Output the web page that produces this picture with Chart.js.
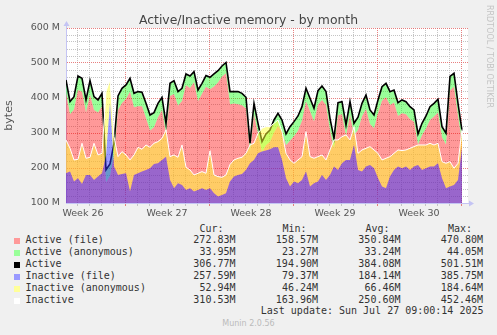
<!DOCTYPE html>
<html>
<head>
<meta charset="utf-8">
<script src="https://cdn.jsdelivr.net/npm/chart.js@4.4.1/dist/chart.umd.min.js"></script>
<style>
html, body { margin: 0; padding: 0; background: #f0f0f0; }
#graph { position: relative; width: 497px; height: 335px; overflow: hidden; font-family: 'DejaVu Sans', sans-serif; }
#plot { position: absolute; left: 0; top: 0; }
.title { position: absolute; left: 0; width: 497px; top: 13px; line-height: 14px; text-align: center; font-size: 12.4px; color: #444; }
.rrd { position: absolute; left: 484px; top: 5px; writing-mode: vertical-rl; font-size: 8px; line-height: 10px; color: #c4c4c4; white-space: nowrap; }
.munin { position: absolute; left: 0; width: 497px; top: 319px; line-height: 10px; text-align: center; font-size: 8px; color: #bbb; }
.cell { position: absolute; font-family: 'DejaVu Sans Mono', monospace; font-size: 10px; line-height: 12px; color: #333; white-space: pre; }
.swatch { position: absolute; width: 6px; height: 6px; }
</style>
</head>
<body>
<div id="graph">
  <canvas id="plot" width="497" height="220"></canvas>
  <div class="title">Active/Inactive memory - by month</div>
  <div class="rrd">RRDTOOL / TOBI OETIKER</div>
  <div id="legend"></div>
  <div class="munin">Munin 2.0.56</div>
</div>
<script>
/* memory usage, one sample every 8 hours, values in MB */

const activeFile = [
  413.5, 353.6, 366.9, 422.9, 418.2, 358.4, 409.6, 365.9, 358.4, 375.4,
  159.0, 177.6, 236.6, 365.8, 385.7, 397.2, 418.2, 373.4, 376.2, 376.3,
  342.8, 307.5, 316.2, 344.8, 366.0, 297.7, 406.0, 411.6, 378.2, 391.7,
  436.6, 428.9, 445.3, 390.9, 412.0, 431.9, 425.1, 432.6, 444.1, 461.5,
  470.8, 382.2, 384.2, 382.2, 379.4, 370.0, 247.3, 352.8, 297.7, 245.4,
  265.3, 274.7, 301.2, 320.3, 303.2, 265.3, 278.2, 290.5, 306.7, 335.3,
  389.7, 363.1, 332.6, 381.0, 394.3, 380.2, 308.0, 254.9, 350.7, 353.6,
  291.0, 351.6, 293.7, 308.9, 346.8, 368.6, 325.8, 313.5, 356.4, 392.4,
  402.0, 380.2, 386.9, 348.7, 356.4, 353.6, 339.3, 331.8, 267.3, 293.7,
  312.7, 337.3, 346.8, 358.3, 288.2, 267.2, 421.5, 432.5, 348.8, 272.83
];
const activeAnon = [
  38, 36, 37, 40, 38, 36, 40, 38, 36, 38,
  36, 34, 34, 40, 42, 40, 38, 40, 42, 40,
  42, 44, 42, 40, 36, 30, 36, 38, 40, 36,
  32, 34, 30, 32, 30, 32, 34, 36, 34, 30,
  30.7, 36, 34, 36, 34, 32, 23.3, 32, 30, 30,
  32, 34, 36, 36, 34, 32, 40, 42, 42, 40,
  38, 36, 38, 40, 40, 38, 34, 30, 36, 36,
  32, 38, 34, 36, 38, 40, 40, 38, 38, 40,
  40, 38, 36, 38, 38, 36, 36, 34, 30, 34,
  36, 38, 38, 38, 30, 32, 40, 38, 36, 33.95
];
const inactiveFile = [
  184.9, 189.7, 161.1, 170.6, 154.5, 180.2, 180.2, 165.9, 175.4, 184.9,
  234.0, 385.7, 204.0, 180.2, 183.0, 184.9, 132.6, 180.2, 184.9, 189.7,
  194.4, 199.2, 211.6, 213.5, 223.0, 232.5, 165.9, 142.1, 156.4, 151.6,
  137.3, 142.1, 132.6, 137.3, 142.1, 137.3, 142.1, 127.8, 118.3, 123.0,
  127.8, 161.1, 175.4, 180.2, 182.6, 194.4, 213.5, 222.6, 242.0, 246.8,
  249.7, 253.5, 259.2, 259.2, 223.0, 170.6, 146.8, 161.1, 156.4, 165.9,
  189.7, 146.8, 156.4, 161.1, 180.2, 165.9, 180.2, 204.0, 194.4, 213.5,
  223.0, 223.0, 265.8, 194.4, 189.7, 204.0, 208.7, 199.2, 170.6, 146.8,
  142.1, 175.4, 194.4, 204.0, 199.2, 204.0, 194.4, 204.0, 208.7, 194.4,
  199.2, 204.0, 204.0, 213.5, 170.6, 142.1, 146.8, 151.2, 165.9, 257.59
];
const inactiveAnon = [
  95.2, 66.6, 61.9, 54.3, 116.1, 47.6, 50.4, 104.7, 61.9, 57.1,
  184.6, 66.7, 85.6, 52.3, 63.8, 52.4, 90.4, 57.1, 74.3, 63.8,
  71.4, 60.0, 59.0, 61.9, 61.9, 76.2, 66.6, 95.2, 74.2, 114.2,
  64.8, 52.3, 47.6, 47.6, 47.6, 47.6, 107.6, 52.4, 57.1, 50.5,
  52.4, 49.0, 47.6, 47.6, 48.0, 47.6, 52.3, 48.0, 57.2, 67.1,
  68.5, 64.7, 68.5, 78.0, 80.9, 71.4, 76.2, 52.4, 66.6, 66.6,
  114.2, 85.7, 71.4, 71.4, 57.1, 57.1, 71.4, 76.1, 85.7, 76.1,
  71.4, 57.1, 52.4, 47.6, 61.9, 52.3, 52.4, 52.4, 71.4, 76.2,
  85.7, 57.1, 47.6, 47.6, 50.5, 47.6, 61.9, 57.1, 57.1, 71.4,
  66.6, 66.6, 61.8, 57.1, 47.6, 71.4, 71.4, 48.0, 47.6, 52.94
];

// time axis in hours counted from Monday 23 Jun 00:00 (start of week 26)
const firstSampleHour = 50;
const sampleStepHours = 8;
const weekLabels = ['Week 26', 'Week 27', 'Week 28', 'Week 29', 'Week 30'];
const yTickLabels = ['100 M', '200 M', '300 M', '400 M', '500 M', '600 M'];

// legend table
const legendNames = ['Active (file)', 'Active (anonymous)', 'Active', 'Inactive (file)', 'Inactive (anonymous)', 'Inactive'];
const legendSwatches = ['#ff9999', '#99ff99', '#000000', '#9999ff', '#ffff99', '#ffffff'];
const curValues = ['272.83M', '33.95M', '306.77M', '257.59M', '52.94M', '310.53M'];
const minValues = ['158.57M', '23.27M', '194.90M', '79.37M', '46.24M', '163.96M'];
const avgValues = ['350.84M', '33.24M', '384.08M', '184.14M', '66.46M', '250.60M'];
const maxValues = ['470.80M', '44.05M', '501.51M', '385.75M', '184.64M', '452.46M'];
const lastUpdate = 'Last update: Sun Jul 27 09:00:14 2025';

const axisColor = '#c4c4f4';
const majorGrid = 'rgba(226, 96, 96, 0.8)';
const minorGrid = '#c4c4c4';

const hours = activeFile.map((_, i) => firstSampleHour + i * sampleStepHours);
const pts = arr => arr.map((v, i) => ({ x: hours[i], y: v }));
const activeTotal = activeFile.map((v, i) => v + activeAnon[i]);
const inactiveTotal = inactiveFile.map((v, i) => v + inactiveAnon[i]);

// day lines plus one label position in the middle of each week
const labelHours = weekLabels.map((_, k) => 84 + 168 * k);
const xTicks = [];
for (let h = 72; h <= 840; h += 24) xTicks.push(h);
xTicks.push(...labelHours);
xTicks.sort((a, b) => a - b);
const isLabelTick = v => labelHours.includes(v);

const area = { pointRadius: 0, borderWidth: 0, borderColor: 'rgba(0,0,0,0)', tension: 0 };

const plotDecor = {
  id: 'plotDecor',
  beforeDraw(chart) {
    const { ctx, chartArea: a } = chart;
    ctx.save();
    ctx.fillStyle = '#ffffff';
    ctx.fillRect(a.left, a.top, a.right - a.left, a.bottom - a.top);
    ctx.restore();
  },
  afterDraw(chart) {
    const { ctx, chartArea: a } = chart;
    const x0 = Math.round(a.left) + 0.5;
    const y0 = Math.round(a.bottom) + 0.5;
    ctx.save();
    ctx.strokeStyle = axisColor;
    ctx.fillStyle = axisColor;
    ctx.lineWidth = 1;
    ctx.beginPath();
    ctx.moveTo(x0, a.top);
    ctx.lineTo(x0, a.top - 3);
    ctx.moveTo(a.right, y0);
    ctx.lineTo(a.right + 3, y0);
    ctx.stroke();
    // arrow heads
    ctx.beginPath();
    ctx.moveTo(x0 - 3, a.top - 2);
    ctx.lineTo(x0 + 3, a.top - 2);
    ctx.lineTo(x0, a.top - 7);
    ctx.closePath();
    ctx.fill();
    ctx.beginPath();
    ctx.moveTo(a.right + 1, y0 - 3);
    ctx.lineTo(a.right + 1, y0 + 3);
    ctx.lineTo(a.right + 6, y0);
    ctx.closePath();
    ctx.fill();
    ctx.restore();
  }
};

Chart.defaults.font.family = "'DejaVu Sans', sans-serif";

new Chart(document.getElementById('plot'), {
  type: 'line',
  data: {
    datasets: [
      { label: 'Active (file)', data: pts(activeFile), stack: 'active', fill: 'origin',
        backgroundColor: 'rgba(255,0,0,0.4)', order: 4, ...area },
      { label: 'Active (anonymous)', data: pts(activeAnon), stack: 'active', fill: '-1',
        backgroundColor: 'rgba(0,255,0,0.4)', order: 4, ...area },
      { label: 'Active', data: pts(activeTotal), stack: 'activeLine', fill: false,
        borderColor: '#000000', borderWidth: 1.6, pointRadius: 0, tension: 0, order: 3 },
      { label: 'Inactive (file)', data: pts(inactiveFile), stack: 'inactive', fill: 'origin',
        backgroundColor: 'rgba(51,51,255,0.5)', order: 2, ...area },
      { label: 'Inactive (anonymous)', data: pts(inactiveAnon), stack: 'inactive', fill: '-1',
        backgroundColor: 'rgba(255,255,51,0.5)', order: 2, ...area },
      { label: 'Inactive', data: pts(inactiveTotal), stack: 'inactiveLine', fill: false,
        borderColor: '#ffffff', borderWidth: 1, pointRadius: 0, tension: 0, order: 1 }
    ]
  },
  options: {
    responsive: false,
    animation: false,
    events: [],
    layout: { padding: { top: 28, right: 29, left: 0, bottom: 0 } },
    plugins: { legend: { display: false }, tooltip: { enabled: false } },
    scales: {
      x: {
        type: 'linear',
        min: 50,
        max: 854,
        z: 1,
        afterBuildTicks: axis => { axis.ticks = xTicks.map(v => ({ value: v })); },
        afterFit: axis => { axis.height = 17; },
        grid: {
          color: c => (c.tick.value % 168 === 0 ? majorGrid : minorGrid),
          lineWidth: c => (isLabelTick(c.tick.value) ? 0 : 1),
          tickColor: c => (c.tick.value % 168 === 0 ? majorGrid : minorGrid),
          tickWidth: c => (isLabelTick(c.tick.value) ? 0 : 1),
          tickLength: 3
        },
        border: { color: axisColor, dash: [1, 1] },
        ticks: {
          autoSkip: false,
          maxRotation: 0,
          padding: 2,
          color: '#555',
          font: { size: 9.5 },
          callback: v => (isLabelTick(v) ? weekLabels[(v - 84) / 168] : '')
        }
      },
      y: {
        stacked: true,
        min: 100,
        max: 600,
        z: 1,
        afterFit: axis => { axis.width = 66; },
        grid: {
          color: c => (Math.round(c.tick.value) % 100 === 0 ? majorGrid : minorGrid),
          lineWidth: c => (Math.round(c.tick.value) === 100 ? 0 : 1),
          drawTicks: false
        },
        border: { color: axisColor, dash: [1, 1] },
        ticks: {
          autoSkip: false,
          stepSize: 20,
          padding: 6,
          color: '#555',
          font: { size: 9.5 },
          callback: v => {
            const r = Math.round(v);
            return r % 100 === 0 ? yTickLabels[(r - 100) / 100] : '';
          }
        },
        title: { display: true, text: 'bytes', color: '#555', font: { size: 11 }, padding: { top: 3, bottom: 0 } }
      }
    }
  },
  plugins: [plotDecor]
});

// legend table below the plot
const legend = document.getElementById('legend');
function cell(text, top, left, right) {
  const d = document.createElement('div');
  d.className = 'cell';
  d.textContent = text;
  d.style.top = top + 'px';
  if (left !== null) d.style.left = left + 'px';
  if (right !== null) d.style.right = right + 'px';
  legend.appendChild(d);
}
const valueRights = [235.5, 318, 400.5, 483];
const headerRights = [223.5, 306.5, 389.5, 472];
['Cur:', 'Min:', 'Avg:', 'Max:'].forEach((h, k) => cell(h, 222.5, null, 497 - headerRights[k]));
legendNames.forEach((name, r) => {
  const top = 233.5 + 12 * r;
  const sw = document.createElement('div');
  sw.className = 'swatch';
  sw.style.left = '14px';
  sw.style.top = (top + 4) + 'px';
  sw.style.background = legendSwatches[r];
  legend.appendChild(sw);
  cell(name, top, 25.5, null);
  [curValues, minValues, avgValues, maxValues].forEach((col, k) => cell(col[r], top, null, 497 - valueRights[k]));
});
cell(lastUpdate, 305, null, 497 - 483.5);
</script>
</body>
</html>
